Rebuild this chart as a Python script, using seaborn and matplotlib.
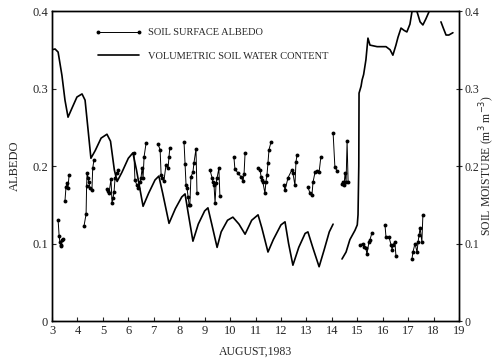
import matplotlib
matplotlib.use("Agg")
import matplotlib.pyplot as plt
import pandas as pd
import seaborn as sns
from matplotlib.lines import Line2D

# Volumetric soil water content (m3 m-3), three continuous records
moist_day_1 = [3.00, 3.12, 3.24, 3.39, 3.51, 3.63, 3.79, 3.98, 4.18, 4.30, 4.42, 4.53,
               4.70, 4.93, 5.16, 5.30, 5.45, 5.56, 5.75, 6.00, 6.18, 6.32, 6.58, 6.80,
               7.05, 7.20, 7.35, 7.60, 7.85, 8.10, 8.23, 8.35, 8.54, 8.75, 9.00, 9.13,
               9.28, 9.49, 9.65, 9.90, 10.11, 10.35, 10.59, 10.85, 11.10, 11.25, 11.49,
               11.70, 12.00, 12.16, 12.30, 12.47, 12.70, 12.95, 13.06, 13.25, 13.50,
               13.70, 13.90, 14.05]
moist_val_1 = [0.350, 0.351, 0.347, 0.317, 0.285, 0.263, 0.275, 0.289, 0.293, 0.285, 0.246, 0.210,
               0.220, 0.236, 0.241, 0.232, 0.195, 0.180, 0.192, 0.210, 0.217, 0.195, 0.148, 0.165,
               0.182, 0.187, 0.165, 0.126, 0.145, 0.160, 0.164, 0.140, 0.103, 0.125, 0.142, 0.146,
               0.125, 0.095, 0.115, 0.130, 0.134, 0.125, 0.112, 0.130, 0.137, 0.120, 0.089,
               0.105, 0.124, 0.128, 0.100, 0.072, 0.095, 0.113, 0.115, 0.095, 0.070,
               0.092, 0.115, 0.125]
moist_day_2 = [14.40, 14.56, 14.71, 14.91, 15.00, 15.03, 15.06, 15.07, 15.15, 15.19, 15.25,
               15.34, 15.42, 15.50, 15.78, 16.13, 16.29, 16.40, 16.52, 16.60, 16.72, 16.84,
               16.95, 17.07, 17.15, 17.22, 17.35, 17.47, 17.58, 17.70, 17.82, 17.92]
moist_val_2 = [0.080, 0.089, 0.105, 0.117, 0.124, 0.137, 0.200, 0.294, 0.303, 0.311, 0.318,
               0.337, 0.365, 0.356, 0.354, 0.354, 0.350, 0.343, 0.356, 0.366, 0.378, 0.375,
               0.373, 0.383, 0.399, 0.405, 0.399, 0.386, 0.382, 0.390, 0.399, 0.403]
moist_day_3 = [18.29, 18.37, 18.49, 18.60, 18.76]
moist_val_3 = [0.386, 0.379, 0.369, 0.369, 0.372]

# Soil surface albedo, one list per day of measurements
albedo_runs = [
    ([3.24, 3.28, 3.31, 3.35, 3.37, 3.39, 3.43],
     [0.130, 0.110, 0.102, 0.098, 0.097, 0.105, 0.106]),
    ([3.51, 3.55, 3.59, 3.63, 3.67],
     [0.155, 0.173, 0.178, 0.172, 0.188]),
    ([4.26, 4.34, 4.36, 4.38, 4.42, 4.45, 4.49, 4.57, 4.60, 4.65],
     [0.123, 0.138, 0.174, 0.191, 0.185, 0.179, 0.172, 0.169, 0.197, 0.208]),
    ([5.16, 5.20, 5.24, 5.32, 5.36, 5.40, 5.44, 5.48, 5.56, 5.59],
     [0.170, 0.168, 0.165, 0.183, 0.152, 0.159, 0.167, 0.185, 0.191, 0.195]),
    ([6.22, 6.26, 6.34, 6.38, 6.46, 6.50, 6.54, 6.58, 6.62, 6.70],
     [0.217, 0.182, 0.175, 0.171, 0.179, 0.185, 0.197, 0.185, 0.212, 0.230]),
    ([7.17, 7.25, 7.29, 7.32, 7.40, 7.48, 7.56, 7.60, 7.63],
     [0.228, 0.221, 0.188, 0.184, 0.181, 0.201, 0.197, 0.212, 0.223]),
    ([8.19, 8.23, 8.27, 8.31, 8.35, 8.39, 8.42, 8.46, 8.54, 8.58, 8.66, 8.70],
     [0.231, 0.203, 0.175, 0.171, 0.160, 0.150, 0.150, 0.186, 0.192, 0.204, 0.222, 0.165]),
    ([9.21, 9.29, 9.33, 9.37, 9.41, 9.45, 9.49, 9.56, 9.60],
     [0.195, 0.185, 0.179, 0.175, 0.152, 0.178, 0.185, 0.197, 0.161]),
    ([10.15, 10.19, 10.31, 10.43, 10.51, 10.55, 10.59],
     [0.212, 0.196, 0.191, 0.186, 0.181, 0.190, 0.217]),
    ([11.10, 11.18, 11.22, 11.25, 11.29, 11.37, 11.41, 11.45, 11.49, 11.53, 11.61],
     [0.197, 0.195, 0.186, 0.182, 0.179, 0.165, 0.180, 0.188, 0.204, 0.221, 0.231]),
    ([12.12, 12.16, 12.28, 12.43, 12.47, 12.55, 12.59, 12.63],
     [0.175, 0.169, 0.185, 0.195, 0.191, 0.175, 0.205, 0.214]),
    ([13.06, 13.14, 13.22, 13.26, 13.34, 13.42, 13.50, 13.57],
     [0.173, 0.165, 0.163, 0.179, 0.192, 0.194, 0.192, 0.212]),
    ([14.05, 14.12, 14.20],
     [0.243, 0.199, 0.194]),
    ([14.40, 14.44, 14.48, 14.52, 14.56, 14.60, 14.64],
     [0.177, 0.180, 0.175, 0.191, 0.179, 0.232, 0.179]),
    ([15.10, 15.22, 15.26, 15.34, 15.38, 15.46, 15.50, 15.58],
     [0.098, 0.100, 0.096, 0.094, 0.086, 0.102, 0.105, 0.114]),
    ([16.09, 16.13, 16.25, 16.33, 16.37, 16.40, 16.48, 16.52],
     [0.124, 0.108, 0.108, 0.098, 0.092, 0.098, 0.102, 0.084]),
    ([17.15, 17.19, 17.27, 17.35, 17.39, 17.43, 17.47, 17.54, 17.58],
     [0.080, 0.089, 0.100, 0.089, 0.102, 0.111, 0.120, 0.102, 0.137]),
]

x_ticks = list(range(3, 20))
y_ticks = [0, 0.1, 0.2, 0.3, 0.4]
y_tick_labels = ["0", "0.1", "0.2", "0.3", "0.4"]
legend_labels = ["SOIL SURFACE ALBEDO", "VOLUMETRIC SOIL WATER CONTENT"]

moist_df = pd.concat([
    pd.DataFrame({"day": d, "value": v, "segment": i})
    for i, (d, v) in enumerate([(moist_day_1, moist_val_1),
                                (moist_day_2, moist_val_2),
                                (moist_day_3, moist_val_3)])
], ignore_index=True)
albedo_df = pd.concat([
    pd.DataFrame({"day": d, "value": v, "run": i})
    for i, (d, v) in enumerate(albedo_runs)
], ignore_index=True)

sns.set_theme(style="ticks")
plt.rcParams["font.family"] = ["Liberation Serif", "DejaVu Serif"]

fig = plt.figure(figsize=(5.01, 3.61), dpi=100)
ax = fig.add_axes([0.1038, 0.1108, 0.8124, 0.8587])

sns.lineplot(data=moist_df, x="day", y="value", units="segment", estimator=None,
             sort=False, color="black", lw=1.2, ax=ax, legend=False)
sns.lineplot(data=albedo_df, x="day", y="value", units="run", estimator=None,
             sort=False, color="black", lw=0.7, marker="o", markersize=2.8,
             markeredgewidth=0, ax=ax, legend=False)

ax.set_xlim(3, 19)
ax.set_ylim(0, 0.4)
ax.set_xticks(x_ticks)
ax.set_yticks(y_ticks)
ax.set_yticklabels(y_tick_labels)
ax.set_xlabel("AUGUST,1983", fontsize=8.5, labelpad=6)
ax.set_ylabel("ALBEDO", fontsize=9, labelpad=8)
ax.tick_params(direction="in", length=3, width=0.8, labelsize=9, pad=3)

ax2 = ax.twinx()
ax2.set_ylim(0, 0.4)
ax2.set_yticks(y_ticks)
ax2.set_yticklabels(y_tick_labels)
ax2.tick_params(direction="inout", length=4, width=0.8, labelsize=8.5, pad=2)
ax2.set_ylabel("SOIL MOISTURE (m$^3$ m$^{-3}$)", fontsize=8.5)
ax2.yaxis.set_label_coords(1.047, 0.5)

for a in (ax, ax2):
    for s in a.spines.values():
        s.set_linewidth(1.0)
        s.set_color("black")

handles = [Line2D([], [], color="black", lw=0.7, marker="o", markersize=2.8, markeredgewidth=0),
           Line2D([], [], color="black", lw=1.2)]
ax.legend(handles, legend_labels, loc="upper left", bbox_to_anchor=(0.096, 0.958),
          borderaxespad=0, frameon=False, numpoints=2, handlelength=4.5,
          handletextpad=0.6, labelspacing=1.35, fontsize=7.5)

fig.savefig("out.png", dpi=100)
